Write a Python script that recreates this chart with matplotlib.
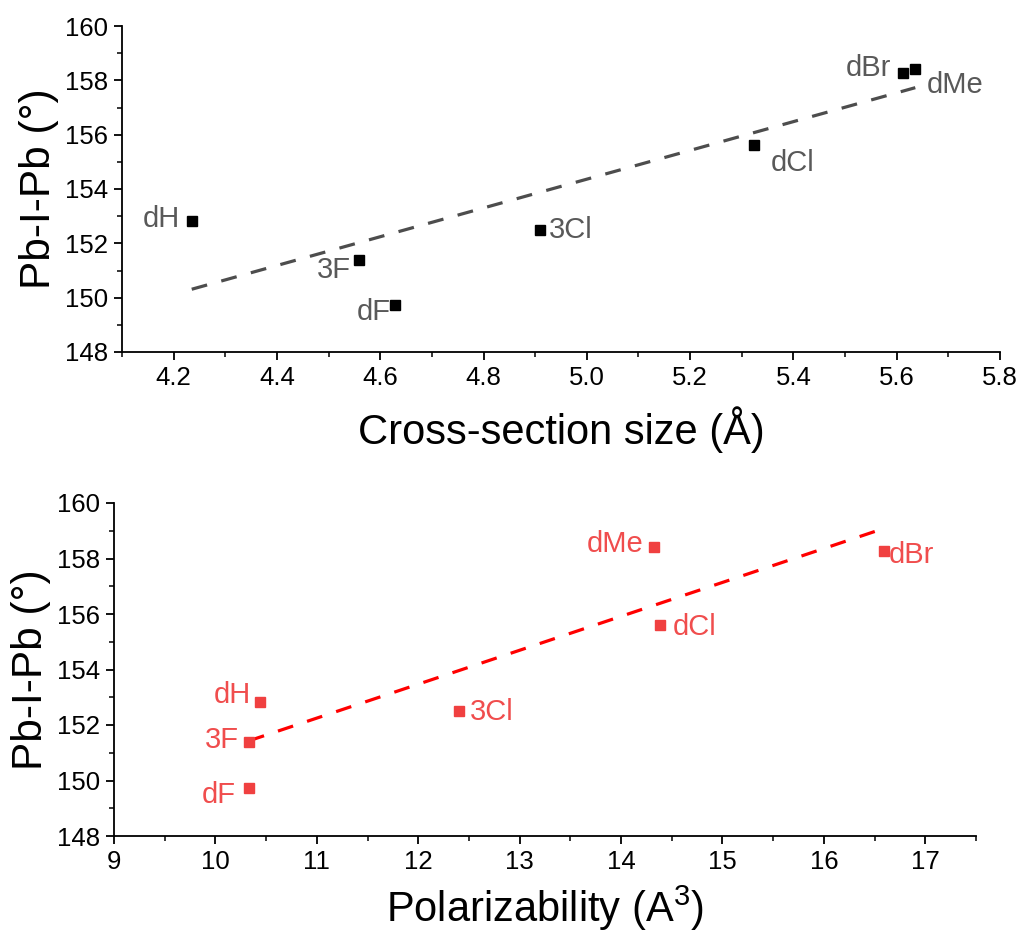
import numpy as np
import matplotlib.pyplot as plt
from matplotlib.ticker import MultipleLocator

plt.rcParams['font.family'] = ['Liberation Sans', 'DejaVu Sans']
plt.rcParams['mathtext.fontset'] = 'custom'
plt.rcParams['mathtext.rm'] = 'Liberation Sans'
plt.rcParams['mathtext.it'] = 'Liberation Sans:italic'

# data
names = ['dH', '3F', 'dF', '3Cl', 'dCl', 'dBr', 'dMe']
angle = [152.82, 151.39, 149.74, 152.49, 155.62, 158.27, 158.42]
cross_size = [4.236, 4.558, 4.628, 4.910, 5.323, 5.613, 5.635]
polariz = [10.44, 10.33, 10.33, 12.40, 14.38, 16.59, 14.32]

# linear fit lines as drawn in the picture (end points)
fit_top_x = [4.235, 5.636]
fit_top_y = [150.31, 157.73]
fit_bot_x = [10.33, 16.54]
fit_bot_y = [151.43, 159.02]

# label offsets in pixels (dx, dy, ha)
top_offsets = {'dH': (-12, 2, 'right'), '3F': (-8, -10, 'right'), 'dF': (-4, -7, 'right'),
               '3Cl': (9, 0, 'left'), 'dCl': (17, -18, 'left'), 'dBr': (-12, 5, 'right'),
               'dMe': (12, -16, 'left')}
bot_offsets = {'dH': (-9, 7, 'right'), '3F': (-10, 2, 'right'), 'dF': (-13, -7, 'right'),
               '3Cl': (11, -1, 'left'), 'dCl': (13, -2, 'left'), 'dBr': (5, -4, 'left'),
               'dMe': (-10, 3, 'right')}

fig = plt.figure(figsize=(10.21, 9.40), dpi=100)
W, H = 1021, 940
ax1 = fig.add_axes([122 / W, 1 - 352 / H, (1000 - 122) / W, (352 - 26) / H])
ax2 = fig.add_axes([114 / W, 1 - 836 / H, (976 - 114) / W, (836 - 503) / H])


def style(ax, xmin, xmax, xmaj, xmin_step):
    ax.set_xlim(xmin, xmax)
    ax.set_ylim(148, 160)
    ax.xaxis.set_major_locator(MultipleLocator(xmaj))
    ax.xaxis.set_minor_locator(MultipleLocator(xmin_step))
    ax.yaxis.set_major_locator(MultipleLocator(2))
    ax.yaxis.set_minor_locator(MultipleLocator(1))
    for s in ['top', 'right']:
        ax.spines[s].set_visible(False)
    for s in ['left', 'bottom']:
        ax.spines[s].set_linewidth(1.3)
    ax.tick_params(which='major', direction='out', length=6, width=1.3, labelsize=18.5, pad=4)
    ax.tick_params(which='minor', direction='out', length=3.5, width=1.1)
    ax.set_ylabel('Pb-I-Pb (°)', fontsize=30.5, labelpad=4)


def draw(ax, x, fx, fy, marker_c, text_c, line_c, offsets):
    ax.plot(fx, fy, color=line_c, lw=2.3, dashes=(5.0, 4.6), zorder=2)
    ax.plot(x, angle, 's', color=marker_c, ms=6.5, zorder=3)
    for n, xi, yi in zip(names, x, angle):
        dx, dy, ha = offsets[n]
        ax.annotate(n, (xi, yi), xytext=(dx, dy), textcoords='offset pixels',
                    ha=ha, va='center', fontsize=21, color=text_c)


style(ax1, 4.1, 5.8, 0.2, 0.1)
draw(ax1, cross_size, fit_top_x, fit_top_y, 'black', '#595959', '#4d4d4d', top_offsets)
ax1.set_xticklabels([f'{v:.1f}' for v in ax1.get_xticks()])
ax1.set_xlabel('Cross-section size (Å)', fontsize=30, labelpad=12)

style(ax2, 9, 17.5, 1, 0.5)
draw(ax2, polariz, fit_bot_x, fit_bot_y, '#f04040', '#f04d4d', '#ff0000', bot_offsets)
ax2.set_xlabel('Polarizability (A$^3$)', fontsize=30, labelpad=7)

fig.savefig('out.png', dpi=100)
